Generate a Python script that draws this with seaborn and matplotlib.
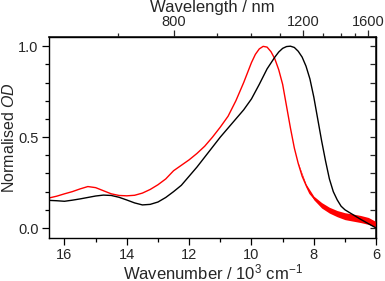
import numpy as np
import pandas as pd
import matplotlib
matplotlib.use("Agg")
import matplotlib.pyplot as plt
from matplotlib.ticker import MultipleLocator, FixedLocator
import seaborn as sns

# wavenumber (10^3 cm-1) and normalised OD
black_wn = [16.5, 16.25, 16.0, 15.75, 15.5, 15.25, 15.0, 14.75, 14.5, 14.25, 14.0, 13.75,
            13.5, 13.25, 13.0, 12.75, 12.5, 12.25, 12.0, 11.75, 11.5, 11.25, 11.0, 10.75,
            10.5, 10.25, 10.0, 9.75, 9.5, 9.25, 9.125, 9.0, 8.875, 8.75, 8.625, 8.5, 8.375,
            8.25, 8.125, 8.0, 7.875, 7.75, 7.625, 7.5, 7.375, 7.25, 7.125, 7.0, 6.75, 6.5,
            6.25, 6.0]
black_od = [0.152, 0.150, 0.147, 0.153, 0.160, 0.168, 0.176, 0.181, 0.179, 0.169, 0.154, 0.138,
            0.127, 0.130, 0.143, 0.168, 0.200, 0.235, 0.285, 0.335, 0.39, 0.445, 0.50, 0.55,
            0.60, 0.65, 0.71, 0.79, 0.875, 0.94, 0.968, 0.988, 0.998, 1.0, 0.993, 0.972, 0.94,
            0.89, 0.82, 0.72, 0.60, 0.48, 0.37, 0.27, 0.20, 0.155, 0.12, 0.100, 0.074, 0.048,
            0.024, 0.0]

red_wn = [16.5, 16.25, 16.0, 15.75, 15.5, 15.25, 15.0, 14.75, 14.5, 14.25, 14.0, 13.75,
          13.5, 13.25, 13.0, 12.75, 12.5, 12.25, 12.0, 11.75, 11.5, 11.25, 11.0, 10.75,
          10.5, 10.25, 10.0, 9.875, 9.75, 9.625, 9.5, 9.375, 9.25, 9.125, 9.0, 8.875,
          8.75, 8.625, 8.5, 8.375, 8.25, 8.125, 8.0, 7.75, 7.5, 7.25, 7.0, 6.75, 6.5,
          6.25, 6.0]
red_od = [0.165, 0.175, 0.188, 0.200, 0.215, 0.228, 0.222, 0.205, 0.188, 0.179, 0.177, 0.180,
          0.192, 0.212, 0.238, 0.27, 0.315, 0.345, 0.375, 0.41, 0.45, 0.50, 0.555, 0.615,
          0.70, 0.80, 0.91, 0.955, 0.985, 0.999, 0.995, 0.97, 0.93, 0.87, 0.79, 0.67,
          0.55, 0.44, 0.355, 0.285, 0.235, 0.19, 0.165, 0.125, 0.098, 0.08, 0.065, 0.058,
          0.05, 0.04, 0.02]

# noisy band of the red trace at low wavenumber
band_wn = [8.5, 8.25, 8.0, 7.75, 7.5, 7.25, 7.0, 6.75, 6.5, 6.25, 6.0]
band_lo = [0.352, 0.228, 0.155, 0.110, 0.082, 0.062, 0.046, 0.038, 0.030, 0.020, 0.005]
band_hi = [0.358, 0.242, 0.175, 0.140, 0.114, 0.096, 0.084, 0.077, 0.069, 0.058, 0.035]

nm_major = [800, 1200, 1600]
nm_minor = [700, 800, 900, 1000, 1100, 1200, 1300, 1400, 1500, 1600]

sns.set_theme(style="ticks")
plt.rcParams["font.family"] = ["Liberation Sans", "DejaVu Sans"]
plt.rcParams["mathtext.fontset"] = "custom"
plt.rcParams["mathtext.rm"] = "Liberation Sans"
plt.rcParams["mathtext.it"] = "Liberation Sans:italic"

df_black = pd.DataFrame({"wn": black_wn, "od": black_od})
df_red = pd.DataFrame({"wn": red_wn, "od": red_od})

fig = plt.figure(figsize=(3.85, 2.81), dpi=100)
ax = fig.add_axes([0.127, 0.153, 0.85, 0.715])

ax.fill_between(band_wn, band_lo, band_hi, color="#ff0000", lw=0)
sns.lineplot(data=df_red, x="wn", y="od", color="#ff0000", lw=1.0, ax=ax)
sns.lineplot(data=df_black, x="wn", y="od", color="black", lw=1.0, ax=ax)

ax.set_xlim(16.5, 6)
ax.set_ylim(-0.055, 1.05)
ax.xaxis.set_major_locator(MultipleLocator(2))
ax.xaxis.set_minor_locator(MultipleLocator(1))
ax.yaxis.set_major_locator(MultipleLocator(0.5))
ax.yaxis.set_minor_locator(MultipleLocator(0.1))
ax.tick_params(which="major", direction="out", length=5, width=0.9, labelsize=10.5,
               color="black", pad=2.5)
ax.tick_params(which="minor", direction="out", length=3, width=0.9, color="black")
ax.tick_params(top=False, right=False)
ax.set_xlabel("Wavenumber / 10$^3$ cm$^{-1}$", fontsize=12, labelpad=0)
ax.set_ylabel("Normalised $\\mathit{OD}$", fontsize=11.5, labelpad=1)
for s in ax.spines.values():
    s.set_linewidth(1.0)
    s.set_color("black")


def wn_to_nm(x):
    x = np.asarray(x, dtype=float)
    with np.errstate(divide="ignore"):
        return 1e4 / x


top = ax.secondary_xaxis("top", functions=(wn_to_nm, wn_to_nm))
top.xaxis.set_major_locator(FixedLocator(nm_major))
top.xaxis.set_minor_locator(FixedLocator(nm_minor))
top.tick_params(which="major", direction="out", length=5, width=0.9, labelsize=10.5, pad=1)
top.tick_params(which="minor", direction="out", length=3, width=0.9)
top.set_xlabel("Wavelength / nm", fontsize=12, labelpad=2)

right = ax.secondary_yaxis("right")
right.yaxis.set_major_locator(MultipleLocator(0.5))
right.yaxis.set_minor_locator(MultipleLocator(0.1))
right.tick_params(which="both", direction="in", length=4, width=0.9, labelright=False)

fig.savefig("out.png", dpi=100)
